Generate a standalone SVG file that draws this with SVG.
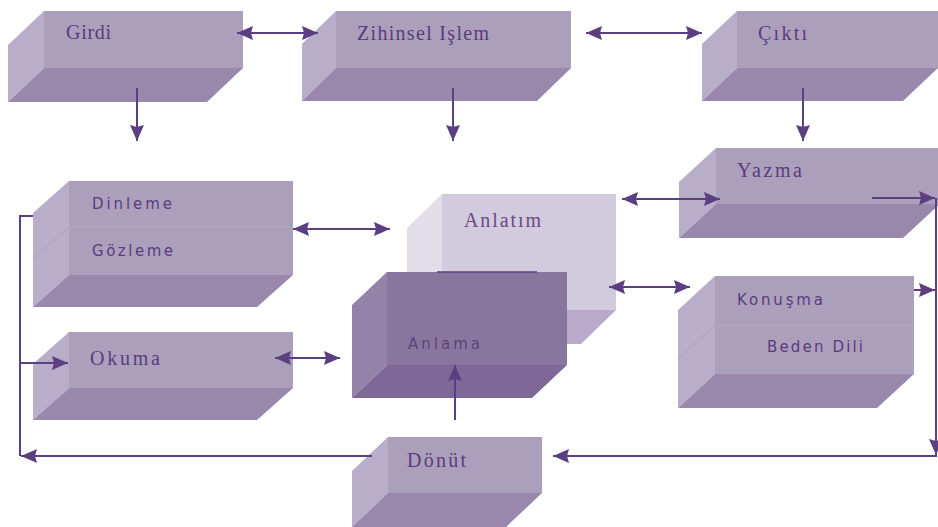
<svg xmlns="http://www.w3.org/2000/svg" width="938" height="527" viewBox="0 0 938 527">
<defs>
<marker id="ah" markerUnits="userSpaceOnUse" markerWidth="17" markerHeight="16" refX="16" refY="8" orient="auto-start-reverse" viewBox="0 0 17 16">
<path d="M0,1 L16,8 L0,15 L2,8 z" fill="#5b3f80"/>
</marker>
<style>
.f{fill:#ac9fbc}.l{fill:#b9aec9}.b{fill:#9987ac}
.fa{fill:#d2cadd}.la{fill:#e3dde9}.ba{fill:#b8aac8}
.fd{fill:#89769f}.ld{fill:#9482a9}.bd{fill:#7f6898}
.div{stroke:#b3a6c2;stroke-width:1.5;fill:none}
.s{font-family:"Liberation Serif","Times New Roman",serif;font-size:20px;fill:#5a3c7c}
.t{font-family:"DejaVu Sans","Liberation Sans",sans-serif;font-size:15px;fill:#5a3c7c}
.c{fill:none;stroke:#5b3f80;stroke-width:2}
</style>
</defs>
<g id="girdi">
<rect class="f" x="44" y="11" width="199" height="57"/>
<polygon class="l" points="8,45 44,11 44,68 8,102"/>
<polygon class="b" points="44,68 243,68 207,102 8,102"/>
<text class="s" x="66" y="39" textLength="45">Girdi</text>
</g>
<g id="zihinsel">
<rect class="f" x="336" y="11" width="235" height="57"/>
<polygon class="l" points="302,44 336,11 336,68 302,101"/>
<polygon class="b" points="336,68 571,68 537,101 302,101"/>
<text class="s" x="357" y="40" textLength="132">Zihinsel Işlem</text>
</g>
<g id="cikti">
<rect class="f" x="737" y="11" width="201" height="57"/>
<polygon class="l" points="702,44 737,11 737,68 702,101"/>
<polygon class="b" points="737,68 938,68 903,101 702,101"/>
<text class="s" x="758" y="40" textLength="49">Çıktı</text>
</g>
<g id="yazma">
<rect class="f" x="716" y="148" width="222" height="56"/>
<polygon class="l" points="679,182 716,148 716,204 679,238"/>
<polygon class="b" points="716,204 940,204 903,238 679,238"/>
<text class="s" x="737" y="177" textLength="65">Yazma</text>
</g>
<g id="dinleme">
<rect class="f" x="69" y="181" width="224" height="94"/>
<polygon class="l" points="33,213 69,181 69,275 33,307"/>
<polygon class="b" points="69,275 293,275 257,307 33,307"/>
<path class="div" d="M69,227 H293 M33,259 L69,227"/>
<text class="t" x="92" y="209" textLength="80">Dinleme</text>
<text class="t" x="92" y="256" textLength="81">Gözleme</text>
</g>
<g id="okuma">
<rect class="f" x="69" y="332" width="224" height="56"/>
<polygon class="l" points="33,364 69,332 69,388 33,420"/>
<polygon class="b" points="69,388 293,388 257,420 33,420"/>
<text class="s" x="90" y="365" textLength="70">Okuma</text>
</g>
<g id="anlatim">
<rect class="fa" x="442" y="194" width="174" height="116"/>
<polygon class="la" points="407,228 442,194 442,310 407,344"/>
<polygon class="ba" points="442,310 616,310 581,344 407,344"/>
<text class="s" x="464" y="227" textLength="77" style="fill:#6a4a86">Anlatım</text>
</g>
<g id="anlama">
<rect class="fd" x="387" y="272" width="180" height="93"/>
<polygon class="ld" points="352,305 387,272 387,365 352,398"/>
<polygon class="bd" points="387,365 567,365 532,398 352,398"/>
<line x1="437" y1="272" x2="537" y2="272" stroke="#5b3f80" stroke-width="1.5"/>
<text class="t" x="408" y="349" textLength="72" style="fill:#5c4478">Anlama</text>
</g>
<g id="konusma">
<rect class="f" x="715" y="276" width="199" height="98"/>
<polygon class="l" points="678,310 715,276 715,374 678,408"/>
<polygon class="b" points="715,374 914,374 877,408 678,408"/>
<path class="div" d="M715,325 H914 M678,359 L715,325"/>
<text class="t" x="737" y="305" textLength="86">Konuşma</text>
<text class="t" x="767" y="352" textLength="96">Beden Dili</text>
</g>
<g id="donut">
<rect class="f" x="388" y="437" width="154" height="56"/>
<polygon class="l" points="352,471 388,437 388,493 352,527"/>
<polygon class="b" points="388,493 542,493 506,527 352,527"/>
<text class="s" x="407" y="467" textLength="59">Dönüt</text>
</g>
<g id="connectors">
<path class="c" d="M237,33 H318" marker-start="url(#ah)" marker-end="url(#ah)"/>
<path class="c" d="M586,33 H702" marker-start="url(#ah)" marker-end="url(#ah)"/>
<path class="c" d="M137,88 V141" marker-end="url(#ah)"/>
<path class="c" d="M453,88 V141" marker-end="url(#ah)"/>
<path class="c" d="M803,88 V141" marker-end="url(#ah)"/>
<path class="c" d="M622,199 H720" marker-start="url(#ah)" marker-end="url(#ah)"/>
<path class="c" d="M293,229 H390" marker-start="url(#ah)" marker-end="url(#ah)"/>
<path class="c" d="M275,358 H340" marker-start="url(#ah)" marker-end="url(#ah)"/>
<path class="c" d="M609,287 H690" marker-start="url(#ah)" marker-end="url(#ah)"/>
<path class="c" d="M872,198 H935" marker-end="url(#ah)"/>
<path class="c" d="M914,290 H935" marker-end="url(#ah)"/>
<path class="c" d="M936,198 V455" marker-end="url(#ah)"/>
<path class="c" d="M937,456 H553" marker-end="url(#ah)"/>
<path class="c" d="M455,420 V365" marker-end="url(#ah)"/>
<path class="c" d="M372,456 H21" marker-end="url(#ah)"/>
<path class="c" d="M33,216 H20 V456"/>
<path class="c" d="M20,363 H68" marker-end="url(#ah)"/>
</g>
</svg>
